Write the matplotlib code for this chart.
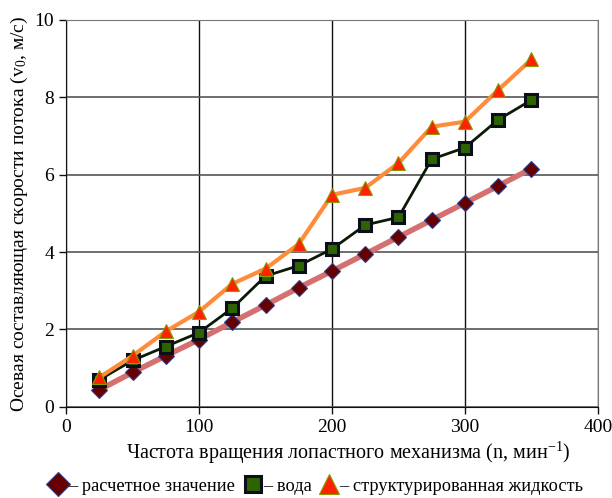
import matplotlib
matplotlib.use("Agg")
import matplotlib.pyplot as plt

# Axial flow velocity vs rotor speed

n = [25, 50, 75, 100, 125, 150, 175, 200, 225, 250, 275, 300, 325, 350]
v_calc = [0.44, 0.89, 1.32, 1.74, 2.19, 2.63, 3.08, 3.51, 3.95, 4.39, 4.83, 5.27, 5.71, 6.16]
v_water = [0.70, 1.20, 1.56, 1.92, 2.55, 3.38, 3.65, 4.08, 4.70, 4.90, 6.40, 6.70, 7.42, 7.93]
v_struct = [0.76, 1.32, 1.95, 2.46, 3.18, 3.57, 4.21, 5.48, 5.66, 6.30, 7.24, 7.37, 8.19, 8.98]

labels = ["– расчетное значение", "– вода", "– структурированная жидкость"]

plt.rcParams['font.family'] = ['Liberation Serif', 'DejaVu Serif']
plt.rcParams['mathtext.fontset'] = 'custom'
plt.rcParams['mathtext.rm'] = 'Liberation Serif'
plt.rcParams['mathtext.it'] = 'Liberation Serif:italic'

fig = plt.figure(figsize=(6.12, 4.98), dpi=100)
ax = fig.add_axes([0.108, 0.183, 0.869, 0.777])

ax.plot(n, v_calc, color='#d4706f', lw=4, marker='D', ms=8,
        mfc='#660000', mec='#2a3f8f', mew=0.8, zorder=3)
ax.plot(n, v_water, color='#0a1a05', lw=2, marker='s', ms=8.5,
        mfc='#2e6400', mec='#0a0f1a', mew=2.2, zorder=4)
ax.plot(n, v_struct, color='#ff8c3a', lw=3, marker='^', ms=10,
        mfc='#ff2200', mec='#8a9a00', mew=0.8, zorder=5)

ax.set_xlim(0, 400)
ax.set_ylim(0, 10)
ax.set_xticks([0, 100, 200, 300, 400])
ax.set_yticks([0, 2, 4, 6, 8, 10])
ax.yaxis.grid(True, color='#555555', lw=1.2)
ax.xaxis.grid(True, color='#111111', lw=1)
ax.set_axisbelow(True)
for s in ['top', 'right']:
    ax.spines[s].set_color('#777777')
for s in ['left', 'bottom']:
    ax.spines[s].set_color('#111111')
ax.tick_params(labelsize=14, length=5, width=1, color='#111111')

ax.set_xlabel("Частота вращения лопастного механизма (n, мин$^{-1}$)", fontsize=14.5, labelpad=5)
ax.xaxis.set_label_coords(0.53, -0.085)
ax.set_ylabel("Осевая составляющая скорости потока (v$_0$, м/с)", fontsize=14, labelpad=3)

h1 = plt.Line2D([], [], ls='none', marker='D', ms=12, mfc='#660000', mec='#2a3f8f', mew=0.8)
h2 = plt.Line2D([], [], ls='none', marker='s', ms=12, mfc='#2e6400', mec='#0a0f1a', mew=2.2)
h3 = plt.Line2D([], [], ls='none', marker='^', ms=14, mfc='#ff2200', mec='#8a9a00', mew=0.8)
fig.legend([h1, h2, h3], labels, loc='center', bbox_to_anchor=(0.517, 0.024), ncol=3,
           frameon=False, fontsize=13.2, handlelength=0.9, handletextpad=0.1,
           columnspacing=0.5, borderpad=0)

fig.savefig("out.png", dpi=100)
